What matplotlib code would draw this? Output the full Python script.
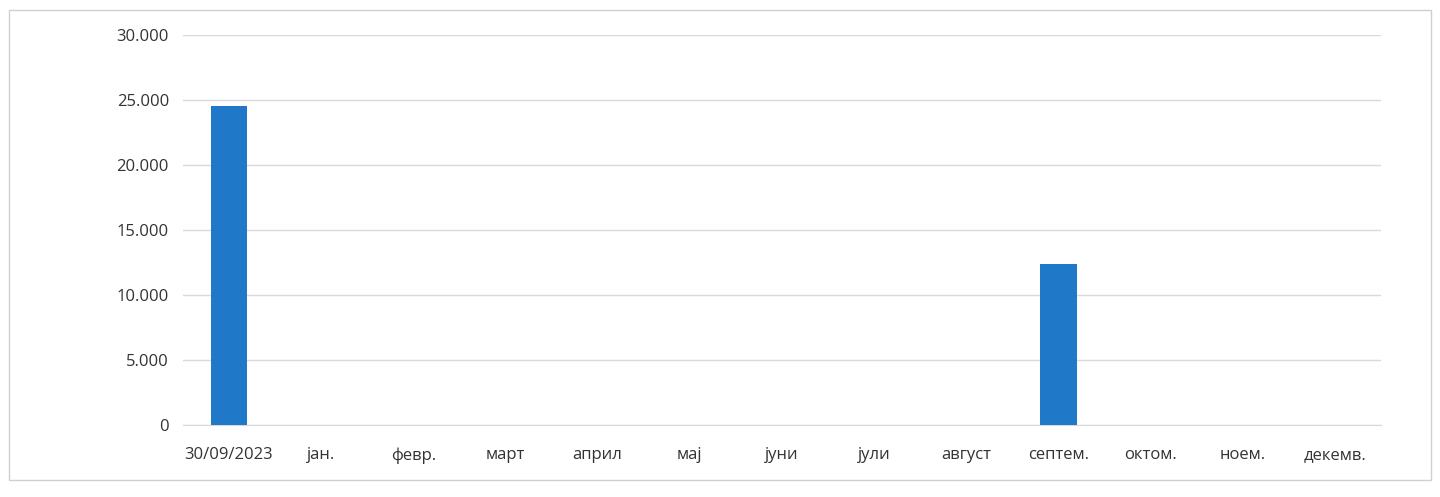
import matplotlib.pyplot as plt
from matplotlib.ticker import FuncFormatter
from matplotlib.patches import Rectangle

categories = ['30/09/2023', 'јан.', 'февр.', 'март', 'април', 'мај', 'јуни',
              'јули', 'август', 'септем.', 'октом.', 'ноем.', 'декемв.']
values = [24500, 0, 0, 0, 0, 0, 0, 0, 0, 12400, 0, 0, 0]
yticks = [0, 5000, 10000, 15000, 20000, 25000, 30000]

plt.rcParams['font.family'] = ['Open Sans', 'DejaVu Sans']

fig = plt.figure(figsize=(14.4, 4.97), dpi=100)
ax = fig.add_axes([0.127, 0.145, 0.832, 0.785])

x = list(range(len(categories)))
ax.bar(x, values, width=0.4, color='#1f78c8', zorder=3)

ax.set_xlim(-0.5, len(categories) - 0.5)
ax.set_ylim(0, 30000)
ax.set_yticks(yticks)
ax.yaxis.set_major_formatter(FuncFormatter(lambda v, p: f'{int(v):,}'.replace(',', '.')))
ax.set_xticks(x)
ax.set_xticklabels(categories)
ax.tick_params(axis='both', length=0, labelsize=12, colors='#333333')
ax.tick_params(axis='x', pad=16)
ax.tick_params(axis='y', pad=10)
ax.grid(axis='y', color='#d9d9d9', linewidth=1, zorder=0)
for s in ['top', 'right', 'left']:
    ax.spines[s].set_visible(False)
ax.spines['bottom'].set_color('#d9d9d9')

# outer chart border
fig.patches.append(Rectangle((0.006, 0.035), 0.988, 0.945, transform=fig.transFigure,
                             fill=False, edgecolor='#d0d0d0', linewidth=1))

fig.savefig('out.png', dpi=100)
